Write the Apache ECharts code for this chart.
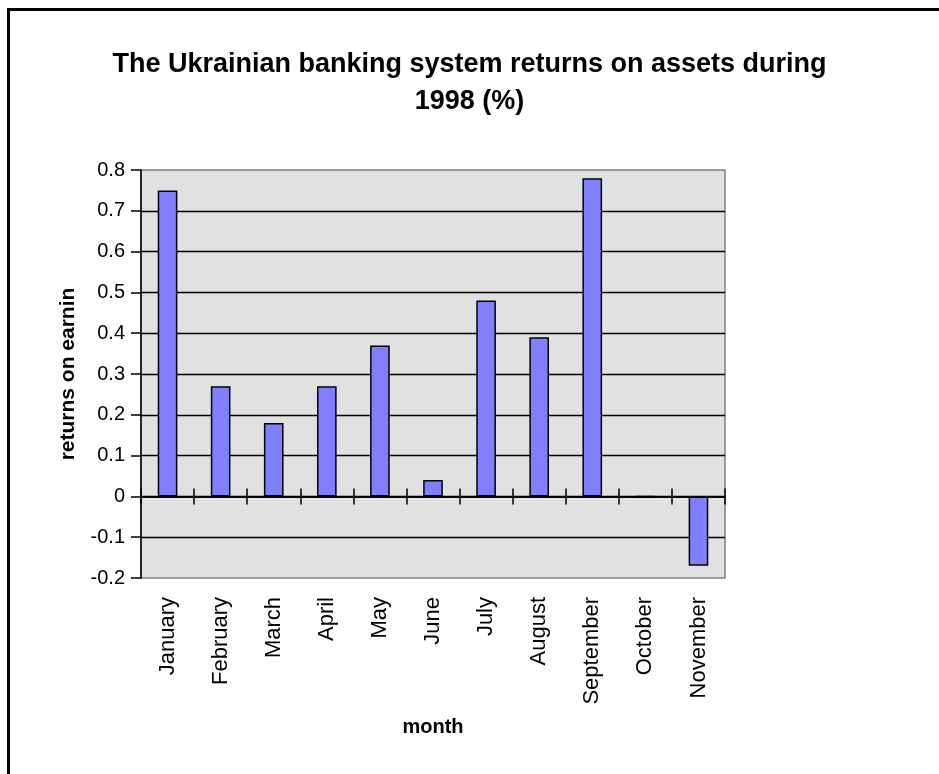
<!DOCTYPE html>
<html>
<head>
<meta charset="utf-8">
<script src="https://cdn.jsdelivr.net/npm/echarts@6/dist/echarts.min.js"></script>
<style>
html,body{margin:0;padding:0;background:#fff;}
#chart{width:939px;height:774px;}
</style>
</head>
<body>
<div id="chart"></div>
<script>
const months = ['January','February','March','April','May','June','July','August','September','October','November'];
const returnsOnAssets = [0.75, 0.27, 0.18, 0.27, 0.37, 0.04, 0.48, 0.39, 0.78, 0, -0.17];
const yMin = -0.2, yMax = 0.8, yStep = 0.1;
const titleText = 'The Ukrainian banking system returns on assets during\n1998 (%)';
const yName = 'returns on earnin';
const xName = 'month';

const FONT = 'Liberation Sans, Arial, sans-serif';
const chart = echarts.init(document.getElementById('chart'), null, {renderer: 'canvas'});
chart.setOption({
  backgroundColor: '#ffffff',
  animation: false,
  title: {
    text: titleText,
    left: 'center',
    top: 41,
    textStyle: {fontFamily: FONT, fontSize: 27, fontWeight: 'bold', color: '#000', lineHeight: 37}
  },
  graphic: [{
    type: 'polyline',
    shape: {points: [[8.5, 774], [8.5, 9.5], [939, 9.5]]},
    style: {stroke: '#000', lineWidth: 3, fill: null},
    silent: true
  }],
  grid: {
    left: 141, right: 214, top: 170, bottom: 196,
    containLabel: false,
    outerBoundsMode: 'none',
    show: true, backgroundColor: '#e1e1e1', borderColor: '#808080', borderWidth: 1.5
  },
  xAxis: [{
    type: 'category',
    data: months,
    position: 'bottom',
    axisLine: {onZero: true, onZeroAxisIndex: 0, lineStyle: {color: '#000', width: 1.5}},
    axisTick: {show: true, inside: false, interval: 0, length: 8, lineStyle: {color: '#000', width: 1.5}},
    axisLabel: {rotate: 90, margin: 19, interval: 0, fontFamily: FONT, fontSize: 22, color: '#000'},
    name: xName,
    nameLocation: 'middle',
    nameGap: 139,
    nameTextStyle: {fontFamily: FONT, fontSize: 20, fontWeight: 'bold', color: '#000'},
    splitLine: {show: false}
  }, {
    type: 'category',
    data: months,
    position: 'top',
    axisLine: {show: true, onZero: true, onZeroAxisIndex: 1, lineStyle: {color: '#000', width: 1.5}},
    axisTick: {show: true, inside: false, interval: 0, length: 8, lineStyle: {color: '#000', width: 1.5}},
    axisLabel: {show: false, interval: 0},
    splitLine: {show: false}
  }],
  yAxis: [{
    type: 'value',
    min: yMin, max: yMax, interval: yStep,
    position: 'left',
    axisLine: {show: true, onZero: false, lineStyle: {color: '#000', width: 1.5}},
    axisTick: {show: true, length: 10, lineStyle: {color: '#000', width: 1.5}},
    axisLabel: {margin: 16, fontFamily: FONT, fontSize: 20, color: '#000',
      formatter: v => String(Math.round(v * 10) / 10)},
    splitLine: {show: true, showMinLine: false, showMaxLine: false, lineStyle: {color: '#000', width: 1.3}},
    name: yName,
    nameLocation: 'middle',
    nameGap: 62,
    nameRotate: 90,
    nameTextStyle: {fontFamily: FONT, fontSize: 21, fontWeight: 'bold', color: '#000'}
  }, {
    type: 'value',
    min: yMin, max: yMax, interval: yStep,
    position: 'right',
    axisLine: {show: false, onZero: false},
    axisTick: {show: false},
    axisLabel: {show: false},
    splitLine: {show: false}
  }],
  series: [{
    type: 'bar',
    data: returnsOnAssets,
    xAxisIndex: 0,
    yAxisIndex: 0,
    barWidth: '37%',
    itemStyle: {color: '#8080ff', borderColor: '#000', borderWidth: 1.5}
  }]
});
</script>
</body>
</html>
